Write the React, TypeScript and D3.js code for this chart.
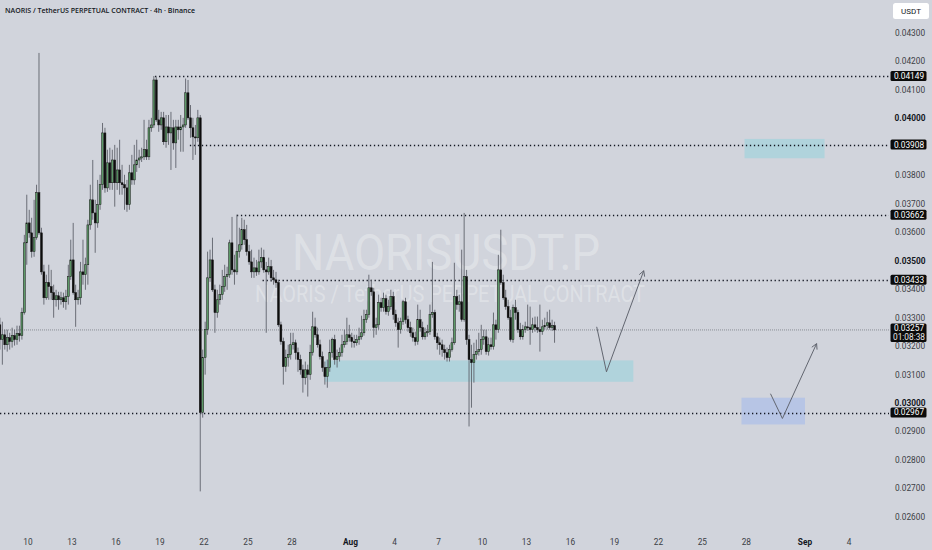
import { useEffect, useRef } from 'react'
import * as d3 from 'd3'

const WIDTH = 932
const HEIGHT = 550

// 4h candles, first one opens Jul 8 00:00 UTC
const firstCandle = Date.UTC(2025, 6, 8, 0)
const candleMs = 4 * 3600 * 1000

// open, high, low, close
const ohlc: [number, number, number, number][] = [
  [0.03275, 0.03300, 0.03188, 0.03223], [0.03223, 0.03286, 0.03135, 0.03240], [0.03240, 0.03258, 0.03188, 0.03205],
  [0.03205, 0.03258, 0.03181, 0.03230], [0.03230, 0.03247, 0.03188, 0.03216], [0.03216, 0.03265, 0.03195, 0.03237],
  [0.03237, 0.03258, 0.03202, 0.03223], [0.03223, 0.03272, 0.03205, 0.03244], [0.03244, 0.03272, 0.03216, 0.03237],
  [0.03237, 0.03335, 0.03223, 0.03318], [0.03318, 0.03591, 0.03311, 0.03563], [0.03563, 0.03732, 0.03486, 0.03633],
  [0.03633, 0.03679, 0.03581, 0.03598], [0.03598, 0.03651, 0.03511, 0.03532], [0.03532, 0.03714, 0.03514, 0.03581],
  [0.03581, 0.03767, 0.03574, 0.03739], [0.03739, 0.04230, 0.03591, 0.03598], [0.03598, 0.03616, 0.03451, 0.03461],
  [0.03461, 0.03486, 0.03346, 0.03370], [0.03370, 0.03451, 0.03363, 0.03423], [0.03423, 0.03486, 0.03363, 0.03409],
  [0.03409, 0.03468, 0.03363, 0.03388], [0.03388, 0.03416, 0.03300, 0.03363], [0.03363, 0.03398, 0.03339, 0.03377],
  [0.03377, 0.03391, 0.03328, 0.03363], [0.03363, 0.03391, 0.03346, 0.03370], [0.03370, 0.03388, 0.03335, 0.03356],
  [0.03356, 0.03398, 0.03328, 0.03374], [0.03374, 0.03486, 0.03346, 0.03444], [0.03444, 0.03574, 0.03433, 0.03503],
  [0.03503, 0.03633, 0.03381, 0.03388], [0.03388, 0.03416, 0.03268, 0.03363], [0.03363, 0.03398, 0.03346, 0.03370],
  [0.03370, 0.03496, 0.03346, 0.03461], [0.03461, 0.03574, 0.03416, 0.03451], [0.03451, 0.03511, 0.03398, 0.03486],
  [0.03486, 0.03644, 0.03416, 0.03626], [0.03626, 0.03767, 0.03609, 0.03714], [0.03714, 0.03854, 0.03644, 0.03668],
  [0.03668, 0.03714, 0.03528, 0.03633], [0.03633, 0.03784, 0.03616, 0.03697], [0.03697, 0.03802, 0.03679, 0.03767],
  [0.03767, 0.03984, 0.03749, 0.03949], [0.03949, 0.03967, 0.03739, 0.03756], [0.03756, 0.03890, 0.03742, 0.03844],
  [0.03844, 0.03897, 0.03749, 0.03774], [0.03774, 0.03890, 0.03749, 0.03854], [0.03854, 0.03907, 0.03690, 0.03774],
  [0.03774, 0.03897, 0.03749, 0.03819], [0.03819, 0.03925, 0.03732, 0.03774], [0.03774, 0.03837, 0.03732, 0.03767],
  [0.03767, 0.03802, 0.03679, 0.03756], [0.03756, 0.03784, 0.03672, 0.03697], [0.03697, 0.03837, 0.03679, 0.03809],
  [0.03809, 0.03872, 0.03767, 0.03784], [0.03784, 0.03907, 0.03767, 0.03837], [0.03837, 0.03925, 0.03812, 0.03854],
  [0.03854, 0.03890, 0.03826, 0.03861], [0.03861, 0.03897, 0.03847, 0.03865], [0.03865, 0.03995, 0.03854, 0.03890],
  [0.03890, 0.03925, 0.03854, 0.03865], [0.03865, 0.03995, 0.03854, 0.03967], [0.03967, 0.04002, 0.03953, 0.03977],
  [0.03977, 0.04149, 0.03967, 0.04135], [0.04135, 0.04145, 0.03988, 0.03995], [0.03995, 0.04030, 0.03953, 0.03977],
  [0.03977, 0.04023, 0.03960, 0.04002], [0.04002, 0.04023, 0.03907, 0.03918], [0.03918, 0.04012, 0.03897, 0.03970],
  [0.03970, 0.04012, 0.03907, 0.03949], [0.03949, 0.04023, 0.03819, 0.03967], [0.03967, 0.03995, 0.03890, 0.03914],
  [0.03914, 0.03995, 0.03826, 0.03970], [0.03970, 0.03995, 0.03925, 0.03960], [0.03960, 0.04012, 0.03883, 0.03970],
  [0.03970, 0.04002, 0.03883, 0.03977], [0.03977, 0.04140, 0.03967, 0.04090], [0.04090, 0.04135, 0.03995, 0.04002],
  [0.04002, 0.04047, 0.03932, 0.03967], [0.03967, 0.04002, 0.03854, 0.03935], [0.03935, 0.03977, 0.03872, 0.03932],
  [0.03932, 0.04030, 0.03918, 0.04002], [0.04002, 0.04012, 0.02690, 0.02967], [0.02967, 0.03188, 0.02949, 0.03160],
  [0.03160, 0.03286, 0.03100, 0.03258], [0.03258, 0.03532, 0.03240, 0.03440], [0.03440, 0.03539, 0.03426, 0.03503],
  [0.03503, 0.03581, 0.03391, 0.03398], [0.03398, 0.03416, 0.03247, 0.03318], [0.03318, 0.03398, 0.03300, 0.03363],
  [0.03363, 0.03416, 0.03346, 0.03381], [0.03381, 0.03468, 0.03363, 0.03409], [0.03409, 0.03486, 0.03391, 0.03444],
  [0.03444, 0.03479, 0.03398, 0.03451], [0.03451, 0.03574, 0.03440, 0.03563], [0.03563, 0.03654, 0.03451, 0.03468],
  [0.03468, 0.03521, 0.03416, 0.03461], [0.03461, 0.03662, 0.03451, 0.03532], [0.03532, 0.03616, 0.03511, 0.03556],
  [0.03556, 0.03651, 0.03539, 0.03609], [0.03609, 0.03644, 0.03556, 0.03574], [0.03574, 0.03626, 0.03518, 0.03532],
  [0.03532, 0.03556, 0.03486, 0.03496], [0.03496, 0.03539, 0.03440, 0.03461], [0.03461, 0.03511, 0.03440, 0.03475],
  [0.03475, 0.03503, 0.03447, 0.03461], [0.03461, 0.03539, 0.03451, 0.03496], [0.03496, 0.03546, 0.03475, 0.03511],
  [0.03511, 0.03539, 0.03458, 0.03468], [0.03468, 0.03496, 0.03247, 0.03461], [0.03461, 0.03511, 0.03451, 0.03479],
  [0.03479, 0.03503, 0.03426, 0.03440], [0.03440, 0.03468, 0.03416, 0.03433], [0.03433, 0.03461, 0.03405, 0.03423],
  [0.03423, 0.03433, 0.03268, 0.03275], [0.03275, 0.03286, 0.03205, 0.03216], [0.03216, 0.03230, 0.03065, 0.03128],
  [0.03128, 0.03188, 0.03110, 0.03160], [0.03160, 0.03205, 0.03128, 0.03170], [0.03170, 0.03247, 0.03153, 0.03205],
  [0.03205, 0.03247, 0.03188, 0.03212], [0.03212, 0.03223, 0.03153, 0.03177], [0.03177, 0.03195, 0.03110, 0.03153],
  [0.03153, 0.03170, 0.03100, 0.03117], [0.03117, 0.03135, 0.03037, 0.03089], [0.03089, 0.03146, 0.03065, 0.03117],
  [0.03117, 0.03135, 0.03023, 0.03100], [0.03100, 0.03205, 0.03082, 0.03177], [0.03177, 0.03321, 0.03167, 0.03268],
  [0.03268, 0.03300, 0.03230, 0.03240], [0.03240, 0.03265, 0.03195, 0.03205], [0.03205, 0.03223, 0.03153, 0.03163],
  [0.03163, 0.03181, 0.03110, 0.03125], [0.03125, 0.03146, 0.03065, 0.03093], [0.03093, 0.03153, 0.03054, 0.03125],
  [0.03125, 0.03223, 0.03110, 0.03177], [0.03177, 0.03230, 0.03160, 0.03223], [0.03223, 0.03240, 0.03135, 0.03153],
  [0.03153, 0.03188, 0.03125, 0.03163], [0.03163, 0.03195, 0.03146, 0.03177], [0.03177, 0.03240, 0.03163, 0.03205],
  [0.03205, 0.03258, 0.03195, 0.03216], [0.03216, 0.03300, 0.03205, 0.03240], [0.03240, 0.03275, 0.03216, 0.03230],
  [0.03230, 0.03247, 0.03195, 0.03216], [0.03216, 0.03240, 0.03195, 0.03212], [0.03212, 0.03240, 0.03202, 0.03223],
  [0.03223, 0.03265, 0.03205, 0.03233], [0.03233, 0.03307, 0.03223, 0.03247], [0.03247, 0.03328, 0.03237, 0.03293],
  [0.03293, 0.03328, 0.03282, 0.03311], [0.03311, 0.03451, 0.03300, 0.03405], [0.03405, 0.03433, 0.03377, 0.03391],
  [0.03391, 0.03405, 0.03230, 0.03265], [0.03265, 0.03300, 0.03240, 0.03275], [0.03275, 0.03381, 0.03258, 0.03353],
  [0.03353, 0.03370, 0.03321, 0.03335], [0.03335, 0.03388, 0.03321, 0.03367], [0.03367, 0.03381, 0.03311, 0.03321],
  [0.03321, 0.03363, 0.03307, 0.03339], [0.03339, 0.03398, 0.03328, 0.03374], [0.03374, 0.03391, 0.03293, 0.03311],
  [0.03311, 0.03328, 0.03268, 0.03282], [0.03282, 0.03300, 0.03195, 0.03258], [0.03258, 0.03300, 0.03244, 0.03286],
  [0.03286, 0.03363, 0.03275, 0.03356], [0.03356, 0.03370, 0.03279, 0.03293], [0.03293, 0.03307, 0.03251, 0.03265],
  [0.03265, 0.03286, 0.03233, 0.03247], [0.03247, 0.03265, 0.03216, 0.03230], [0.03230, 0.03251, 0.03202, 0.03216],
  [0.03216, 0.03346, 0.03205, 0.03293], [0.03293, 0.03328, 0.03251, 0.03265], [0.03265, 0.03286, 0.03223, 0.03233],
  [0.03233, 0.03265, 0.03223, 0.03247], [0.03247, 0.03275, 0.03233, 0.03251], [0.03251, 0.03346, 0.03240, 0.03311],
  [0.03311, 0.03496, 0.03300, 0.03318], [0.03318, 0.03328, 0.03223, 0.03233], [0.03233, 0.03247, 0.03188, 0.03212],
  [0.03212, 0.03230, 0.03170, 0.03205], [0.03205, 0.03223, 0.03163, 0.03188], [0.03188, 0.03205, 0.03153, 0.03177],
  [0.03177, 0.03195, 0.03146, 0.03160], [0.03160, 0.03205, 0.03146, 0.03188], [0.03188, 0.03230, 0.03181, 0.03212],
  [0.03212, 0.03493, 0.03205, 0.03374], [0.03374, 0.03398, 0.03328, 0.03346], [0.03346, 0.03381, 0.03321, 0.03356],
  [0.03356, 0.03539, 0.03286, 0.03293], [0.03293, 0.03668, 0.03286, 0.03444], [0.03444, 0.03468, 0.03205, 0.03223],
  [0.03223, 0.03240, 0.02918, 0.03153], [0.03153, 0.03205, 0.02984, 0.03142], [0.03142, 0.03212, 0.03072, 0.03170],
  [0.03170, 0.03223, 0.03153, 0.03181], [0.03181, 0.03247, 0.03167, 0.03188], [0.03188, 0.03275, 0.03170, 0.03223],
  [0.03223, 0.03258, 0.03205, 0.03233], [0.03233, 0.03258, 0.03170, 0.03181], [0.03181, 0.03230, 0.03167, 0.03205],
  [0.03205, 0.03230, 0.03188, 0.03198], [0.03198, 0.03318, 0.03188, 0.03275], [0.03275, 0.03293, 0.03223, 0.03258],
  [0.03258, 0.03521, 0.03247, 0.03468], [0.03468, 0.03609, 0.03416, 0.03423], [0.03423, 0.03451, 0.03363, 0.03370],
  [0.03370, 0.03398, 0.03328, 0.03339], [0.03339, 0.03363, 0.03293, 0.03300], [0.03300, 0.03328, 0.03216, 0.03223],
  [0.03223, 0.03346, 0.03212, 0.03335], [0.03335, 0.03363, 0.03293, 0.03318], [0.03318, 0.03328, 0.03247, 0.03258],
  [0.03258, 0.03282, 0.03223, 0.03233], [0.03233, 0.03275, 0.03223, 0.03258], [0.03258, 0.03286, 0.03247, 0.03268],
  [0.03268, 0.03346, 0.03254, 0.03265], [0.03265, 0.03339, 0.03205, 0.03258], [0.03258, 0.03300, 0.03247, 0.03275],
  [0.03275, 0.03304, 0.03251, 0.03265], [0.03265, 0.03304, 0.03247, 0.03258], [0.03258, 0.03346, 0.03181, 0.03251],
  [0.03251, 0.03293, 0.03240, 0.03268], [0.03268, 0.03300, 0.03258, 0.03272], [0.03272, 0.03321, 0.03258, 0.03282],
  [0.03282, 0.03328, 0.03258, 0.03265], [0.03265, 0.03293, 0.03254, 0.03272], [0.03272, 0.03286, 0.03212, 0.03257],
]

const yTicks = [0.026, 0.027, 0.028, 0.029, 0.03, 0.031, 0.032, 0.033, 0.034, 0.035, 0.036, 0.037, 0.038, 0.039, 0.04, 0.041, 0.042, 0.043]
const boldYTicks = [0.03, 0.035, 0.04]

const xTickDates = ['2025-07-10', '2025-07-13', '2025-07-16', '2025-07-19', '2025-07-22', '2025-07-25', '2025-07-28',
  '2025-08-01', '2025-08-04', '2025-08-07', '2025-08-10', '2025-08-13', '2025-08-16', '2025-08-19', '2025-08-22',
  '2025-08-25', '2025-08-28', '2025-09-01', '2025-09-04']
const xTickLabels = ['10', '13', '16', '19', '22', '25', '28', 'Aug', '4', '7', '10', '13', '16', '19', '22', '25', '28', 'Sep', '4']

const levelPrices = [0.04149, 0.03908, 0.03662, 0.03433, 0.02967]
const levelStarts = ['2025-07-18T16:00Z', '2025-07-21T01:00Z', '2025-07-24T06:00Z', '2025-07-26T00:00Z', '2025-07-08T00:00Z']

const lastPrice = 0.03257
const countdown = '01:08:38'

const zoneStarts = ['2025-07-30T06:00Z', '2025-08-27T21:00Z', '2025-08-27T16:00Z']
const zoneEnds = ['2025-08-20T07:00Z', '2025-09-02T08:00Z', '2025-09-01T00:00Z']
const zoneLows = [0.03075, 0.0386, 0.02925]
const zoneHighs = [0.0315, 0.03928, 0.03019]
const zoneColors = ['#b0d3dc', '#b0d3dc', '#b7c5e5']

const arrowA: [string, number][] = [['2025-08-17T19:00Z', 0.03268], ['2025-08-18T11:00Z', 0.0311], ['2025-08-21T00:00Z', 0.03465]]
const arrowB: [string, number][] = [['2025-08-29T15:30Z', 0.03033], ['2025-08-30T11:00Z', 0.02946], ['2025-09-01T19:00Z', 0.03209]]

const title = 'NAORIS / TetherUS PERPETUAL CONTRACT · 4h · Binance'
const watermark = 'NAORISUSDT.P'
const watermarkSub = 'NAORIS / TetherUS PERPETUAL CONTRACT'

const fmt = (v: number) => v.toFixed(5)

export default function App() {
  const svgRef = useRef<SVGSVGElement>(null)

  useEffect(() => {
    if (!svgRef.current) return
    const svg = d3.select(svgRef.current)
    svg.selectAll('*').remove()

    const paneRight = 889
    const axisX = 909
    const axisFont = 8.3

    const x = d3.scaleUtc()
      .domain([new Date('2025-07-10T00:00Z'), new Date('2025-09-01T00:00Z')])
      .range([28, 805])
    const y = d3.scaleLinear().domain([0.026, 0.043]).range([517, 33])

    svg.append('rect').attr('width', WIDTH).attr('height', HEIGHT).attr('fill', '#d1d4dc')

    // Watermark
    svg.append('text')
      .attr('x', 446).attr('y', 270)
      .attr('text-anchor', 'middle')
      .attr('font-family', 'Roboto, sans-serif')
      .attr('font-size', 50)
      .attr('textLength', 308).attr('lengthAdjust', 'spacingAndGlyphs')
      .attr('fill', '#ffffff').attr('fill-opacity', 0.3)
      .text(watermark)
    svg.append('text')
      .attr('x', 450).attr('y', 302)
      .attr('text-anchor', 'middle')
      .attr('font-family', 'Roboto, sans-serif')
      .attr('font-size', 24)
      .attr('textLength', 390).attr('lengthAdjust', 'spacingAndGlyphs')
      .attr('fill', '#ffffff').attr('fill-opacity', 0.3)
      .text(watermarkSub)

    // Zones
    zoneStarts.forEach((s, i) => {
      const x0 = x(new Date(s))
      const x1 = x(new Date(zoneEnds[i]))
      svg.append('rect')
        .attr('x', x0).attr('width', x1 - x0)
        .attr('y', y(zoneHighs[i])).attr('height', y(zoneLows[i]) - y(zoneHighs[i]))
        .attr('fill', zoneColors[i])
    })

    // Last price line
    svg.append('line')
      .attr('x1', 0).attr('x2', paneRight)
      .attr('y1', y(lastPrice)).attr('y2', y(lastPrice))
      .attr('stroke', '#8a8d94').attr('stroke-width', 1)
      .attr('stroke-dasharray', '1 1')

    // Horizontal levels
    levelPrices.forEach((p, i) => {
      const yy = Math.round(y(p)) + 0.5
      svg.append('line')
        .attr('x1', Math.max(0, x(new Date(levelStarts[i])))).attr('x2', paneRight)
        .attr('y1', yy).attr('y2', yy)
        .attr('stroke', '#131722').attr('stroke-width', 1.3)
        .attr('stroke-dasharray', '1.3 2.7')
    })

    // Candles
    const half = candleMs / 2
    const bw = 1.9
    const g = svg.append('g')
    ohlc.forEach(([o, h, l, c], i) => {
      const t = firstCandle + i * candleMs
      const cx = x(new Date(t + half))
      const up = c >= o
      const hi = Math.max(h, o, c)
      const lo = Math.min(l, o, c)
      g.append('line')
        .attr('x1', cx).attr('x2', cx)
        .attr('y1', y(hi)).attr('y2', y(lo))
        .attr('stroke', '#5f626b').attr('stroke-width', 0.9)
      const top = y(Math.max(o, c))
      const bh = Math.max(1, Math.abs(y(o) - y(c)))
      g.append('rect')
        .attr('x', cx - bw / 2).attr('y', top)
        .attr('width', bw).attr('height', bh)
        .attr('fill', up ? '#5d9a68' : '#0d0d0d')
        .attr('stroke', '#151515').attr('stroke-width', 0.5)
    })

    // Arrows
    const drawArrow = (pts: [string, number][]) => {
      const xy = pts.map(([d, p]) => [x(new Date(d)), y(p)] as [number, number])
      svg.append('path')
        .attr('d', d3.line()(xy))
        .attr('fill', 'none').attr('stroke', '#626670').attr('stroke-width', 1)
      const [ax, ay] = xy[xy.length - 2]
      const [bx, by] = xy[xy.length - 1]
      const ang = Math.atan2(by - ay, bx - ax)
      const len = 6
      const head: [number, number][] = [
        [bx - len * Math.cos(ang - 0.5), by - len * Math.sin(ang - 0.5)],
        [bx, by],
        [bx - len * Math.cos(ang + 0.5), by - len * Math.sin(ang + 0.5)],
      ]
      svg.append('path')
        .attr('d', d3.line()(head))
        .attr('fill', 'none').attr('stroke', '#626670').attr('stroke-width', 1)
    }
    drawArrow(arrowA)
    drawArrow(arrowB)

    // Title
    svg.append('text')
      .attr('x', 5).attr('y', 12.5)
      .attr('font-family', '"Open Sans", sans-serif')
      .attr('font-size', 7.5).attr('font-weight', 600)
      .attr('textLength', 190).attr('lengthAdjust', 'spacingAndGlyphs')
      .attr('fill', '#131722')
      .text(title)

    // Y axis labels (the ones hidden under a price tag are skipped, as on the chart)
    const visibleTicks = yTicks.filter(t => levelPrices.every(p => Math.abs(y(t) - y(p)) > 8))
    svg.append('g')
      .selectAll('text')
      .data(visibleTicks)
      .join('text')
      .attr('x', axisX + 1).attr('y', d => y(d))
      .attr('dy', '0.35em')
      .attr('text-anchor', 'middle')
      .attr('font-family', 'Roboto, sans-serif')
      .attr('font-size', axisFont)
      .attr('font-weight', d => (boldYTicks.includes(d) ? 700 : 400))
      .attr('fill', d => (boldYTicks.includes(d) ? '#131722' : '#3b3e45'))
      .text(d => fmt(d))

    // Level price tags
    levelPrices.forEach(p => {
      const yy = y(p)
      svg.append('rect')
        .attr('x', 890.5).attr('y', yy - 5)
        .attr('width', 36).attr('height', 10)
        .attr('rx', 1.5)
        .attr('fill', '#0b0b0b')
      svg.append('text')
        .attr('x', axisX).attr('y', yy)
        .attr('dy', '0.35em')
        .attr('text-anchor', 'middle')
        .attr('font-family', 'Roboto, sans-serif')
        .attr('font-size', axisFont)
        .attr('fill', '#ffffff')
        .text(fmt(p))
    })

    // Last price tag with countdown
    const ly = y(lastPrice)
    svg.append('rect')
      .attr('x', 890.5).attr('y', ly - 6.5)
      .attr('width', 36).attr('height', 18.5)
      .attr('rx', 1.5)
      .attr('fill', '#0b0b0b')
    svg.append('text')
      .attr('x', axisX).attr('y', ly - 1.5)
      .attr('dy', '0.35em')
      .attr('text-anchor', 'middle')
      .attr('font-family', 'Roboto, sans-serif')
      .attr('font-size', axisFont)
      .attr('fill', '#ffffff')
      .text(fmt(lastPrice))
    svg.append('text')
      .attr('x', axisX).attr('y', ly + 7.5)
      .attr('dy', '0.35em')
      .attr('text-anchor', 'middle')
      .attr('font-family', 'Roboto, sans-serif')
      .attr('font-size', axisFont)
      .attr('fill', '#e8e8e8')
      .text(countdown)

    // Currency box
    svg.append('rect')
      .attr('x', 893).attr('y', 3)
      .attr('width', 36).attr('height', 16)
      .attr('rx', 2.5)
      .attr('fill', '#ffffff')
    svg.append('text')
      .attr('x', 911).attr('y', 11)
      .attr('dy', '0.35em')
      .attr('text-anchor', 'middle')
      .attr('font-family', 'Roboto, sans-serif')
      .attr('font-size', 8)
      .attr('fill', '#131722')
      .text('USDT')

    // X axis labels
    svg.append('g')
      .selectAll('text')
      .data(xTickDates)
      .join('text')
      .attr('x', d => x(new Date(d + 'T00:00Z')))
      .attr('y', 542)
      .attr('dy', '0.35em')
      .attr('text-anchor', 'middle')
      .attr('font-family', 'Roboto, sans-serif')
      .attr('font-size', axisFont)
      .attr('font-weight', (_, i) => (/[A-Za-z]/.test(xTickLabels[i]) ? 700 : 400))
      .attr('fill', (_, i) => (/[A-Za-z]/.test(xTickLabels[i]) ? '#131722' : '#3b3e45'))
      .text((_, i) => xTickLabels[i])
  }, [])

  return (
    <svg
      ref={svgRef}
      width={WIDTH}
      height={HEIGHT}
      style={{ position: 'fixed', left: 0, top: 0, display: 'block' }}
    />
  )
}
